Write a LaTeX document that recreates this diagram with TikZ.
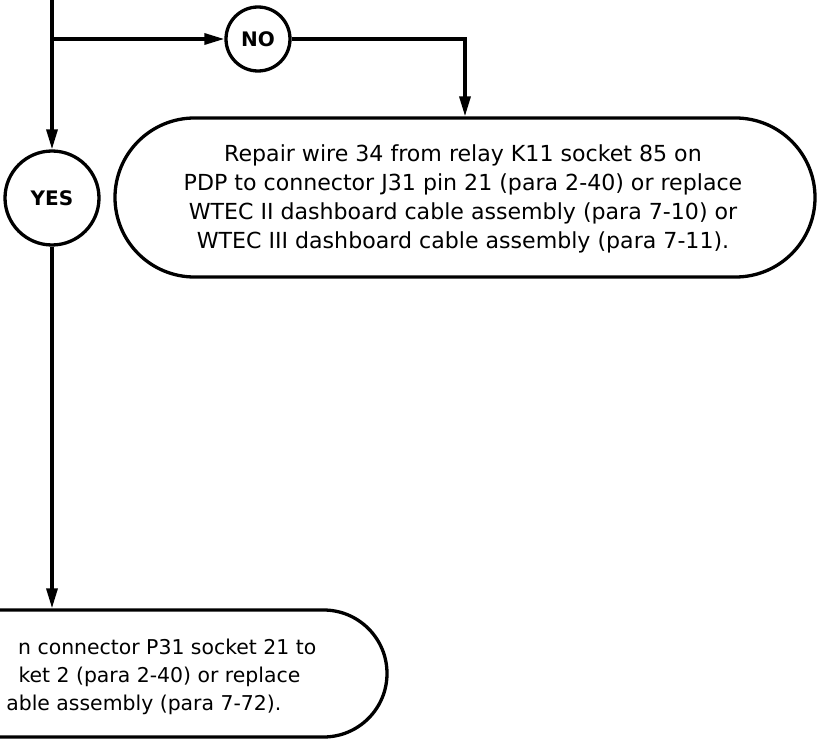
\documentclass[tikz,border=0pt]{standalone}
\usepackage{fontspec}
\setmainfont{DejaVu Sans}
\usetikzlibrary{arrows.meta,shapes.misc}
\begin{document}
\begin{tikzpicture}[x=1pt,y=-1pt,
  line width=3.3pt,
  conn/.style={-{Triangle[length=20pt,width=11pt]}},
  decision/.style={circle,draw,inner sep=0pt,font=\fontsize{20}{20}\selectfont\bfseries},
  action/.style={rounded rectangle,draw,inner sep=0pt},
  txt/.style={font=\fontsize{22.1}{29}\selectfont,inner sep=0pt},
  txtb/.style={font=\fontsize{20.4}{28}\selectfont,inner sep=0pt}]
\useasboundingbox (0,0) rectangle (817,741);
\clip (0,0) rectangle (817,741);
\node[decision,minimum size=64pt] (no) at (258,39) {NO};
\node[decision,minimum size=94pt] (yes) at (52,198) {YES};
\node[action,minimum width=700pt,minimum height=159pt] (box1) at (465,197.5) {};
\node[txt,align=center] (t1) at (463,199) {Repair wire 34 from relay K11 socket 85 on\\PDP to connector J31 pin 21 (para 2-40) or replace\\WTEC II dashboard cable assembly (para 7-10) or\\WTEC III dashboard cable assembly (para 7-11).};
\node[action,minimum width=700pt,minimum height=127pt] (box2) at (37,673.5) {};
\node[txtb,anchor=base east] (b1) at (318,654) {n connector P31 socket 21 to};
\node[txtb,anchor=base east] (b2) at (302,682) {ket 2 (para 2-40) or replace};
\node[txtb,anchor=base east] (b3) at (283,710) {able assembly (para 7-72).};
\coordinate (top) at (52,-5);
\coordinate (split) at (52,39);
\draw[conn] (top) -- (yes.north);
\draw[conn] (split) -- (no.west);
\draw[conn] (no.east) -| (box1.north);
\draw[conn] (yes.south) -- (yes.south |- box2.north);
\end{tikzpicture}
\end{document}
